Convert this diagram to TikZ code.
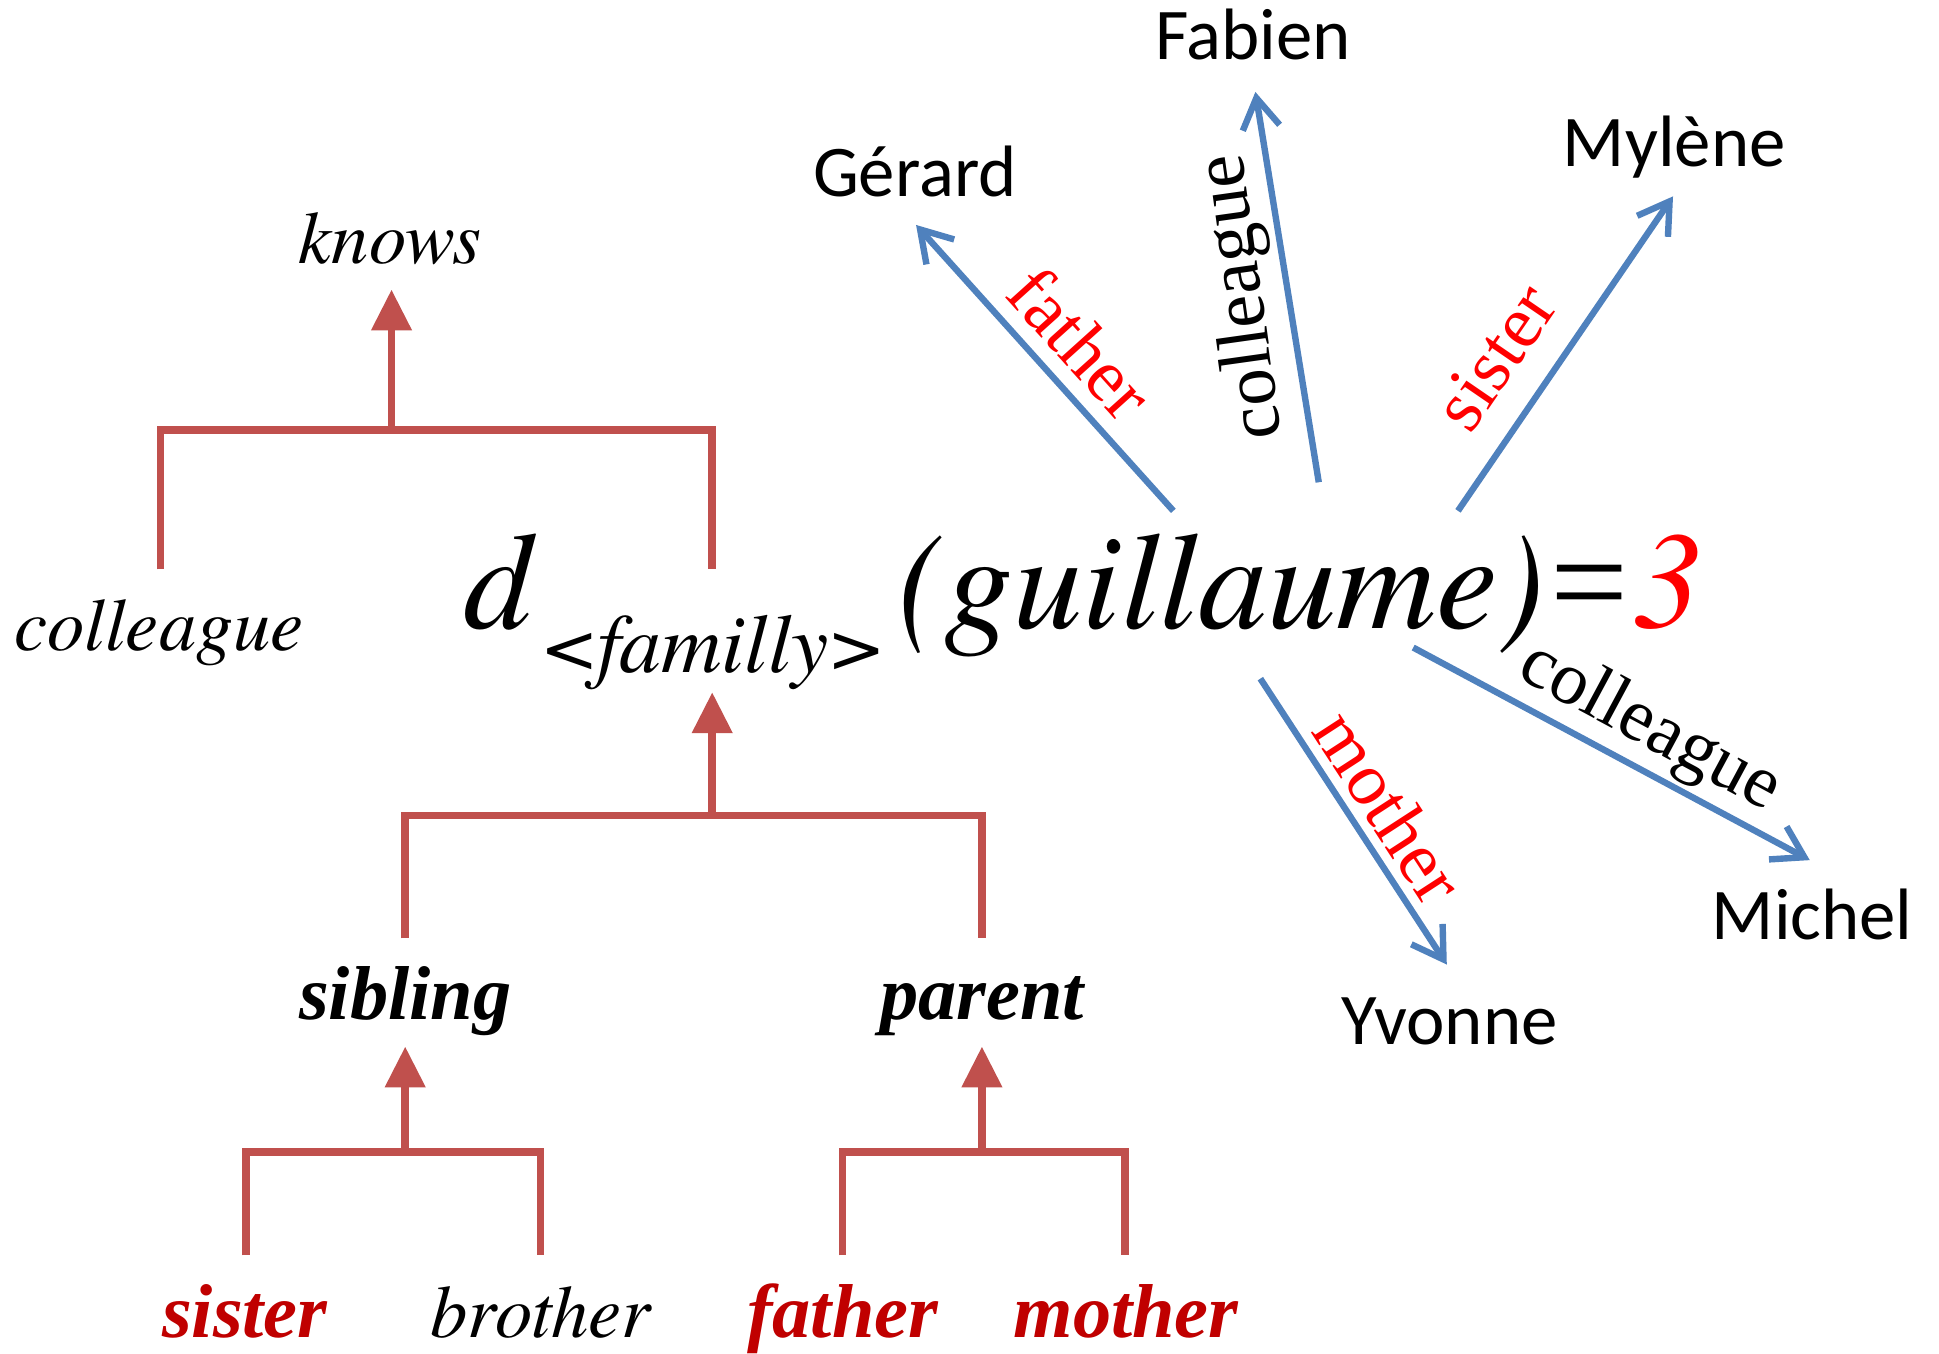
\documentclass[tikz,border=0pt]{standalone}
\usepackage{fontspec}
\setmainfont{Liberation Serif}
\newfontfamily\termesit{texgyretermes-italic.otf}
\newfontfamily\namefont{Carlito}
\usetikzlibrary{arrows.meta}
\definecolor{treered}{RGB}{192,80,77}
\definecolor{arrowblue}{RGB}{79,129,189}
\definecolor{darkred}{RGB}{192,0,0}
\definecolor{labelred}{RGB}{255,0,0}
\begin{document}
\begin{tikzpicture}[x=0.35pt,y=-0.35pt,
  treeline/.style={draw=treered,line width=2.1pt},
  treearrow/.style={draw=treered,line width=2.1pt,-{Triangle[length=11.5pt,width=11pt]}},
  blueedge/.style={draw=arrowblue,line width=1.8pt,-{Straight Barb[length=8.5pt,width=10.5pt]}},
  ittext/.style={font=\termesit\fontsize{21}{25}\selectfont,inner sep=0pt,anchor=base},
  bitext/.style={font=\fontsize{21.5}{25}\selectfont\bfseries\itshape,inner sep=0pt,anchor=base},
  nametext/.style={font=\namefont\fontsize{20.5}{24}\selectfont,inner sep=0pt,anchor=base},
  edgelabel/.style={font=\fontsize{21}{25}\selectfont,inner sep=0pt},
  formula/.style={font=\termesit\fontsize{39}{44}\selectfont,inner sep=0pt,anchor=base west},
  subformula/.style={font=\termesit\fontsize{23.6}{27}\selectfont,inner sep=0pt,anchor=base west}
]
\useasboundingbox (0,0) rectangle (1560,1089);
\fill[white] (0,0) rectangle (1560,1089);

% ---------- formula ----------
\node[formula] (d) at (372,506) {d};
\node[subformula] (sub) at (435,541) {<familly>};
\node[formula] (arg) at (722,506) {(guillaume)};
\node[formula,font=\fontsize{39}{44}\selectfont] (eq) at (1247,506) {=};
\node[formula,text=labelred] (three) at (1314,506) {3};

% ---------- tree texts ----------
\node[ittext] (knows) at (314,212) {knows};
\node[ittext] (colleagueL) at (128,523) {colleague};
\node[bitext] (sibling) at (326,820) {sibling};
\node[bitext] (parent) at (790,820) {parent};
\node[bitext,text=darkred] (sisterB) at (197,1076) {sister};
\node[ittext] (brotherB) at (435,1076) {brother};
\node[bitext,text=darkred] (fatherB) at (678,1076) {father};
\node[bitext,text=darkred] (motherB) at (906,1076) {mother};

% ---------- tree 1 : knows ----------
\coordinate (k1) at (129,458);
\coordinate (k2) at (573,458);
\coordinate (kbar) at (315,346);
\coordinate (ktip) at (315,233);
\draw[treeline] (k1) |- (kbar) -| (k2);
\draw[treearrow] (kbar) -- (ktip);

% ---------- tree 2 : familly ----------
\coordinate (f1) at (326,755);
\coordinate (f2) at (790,755);
\coordinate (fbar) at (573,656);
\coordinate (ftip) at (573,557);
\draw[treeline] (f1) |- (fbar) -| (f2);
\draw[treearrow] (fbar) -- (ftip);

% ---------- tree 3 : sibling ----------
\coordinate (s1) at (198,1010);
\coordinate (s2) at (435,1010);
\coordinate (sbar) at (326,927);
\coordinate (stip) at (326,842);
\draw[treeline] (s1) |- (sbar) -| (s2);
\draw[treearrow] (sbar) -- (stip);

% ---------- tree 4 : parent ----------
\coordinate (p1) at (678,1010);
\coordinate (p2) at (905,1010);
\coordinate (pbar) at (790,927);
\coordinate (ptip) at (790,842);
\draw[treeline] (p1) |- (pbar) -| (p2);
\draw[treearrow] (pbar) -- (ptip);

% ---------- names ----------
\node[nametext] (gerard) at (736,158) {Gérard};
\node[nametext] (fabien) at (1008,48) {Fabien};
\node[nametext] (mylene) at (1347,134) {Mylène};
\node[nametext] (yvonne) at (1166,840) {Yvonne};
\node[nametext] (michel) at (1458,756) {Michel};

% ---------- blue edges ----------
\coordinate (gS) at (944,411);  \coordinate (gT) at (737,181);
\coordinate (fS) at (1061,388); \coordinate (fT) at (1010,74);
\coordinate (mS) at (1173,411); \coordinate (mT) at (1346,158);
\coordinate (yS) at (1014,546); \coordinate (yT) at (1164,776);
\coordinate (cS) at (1137,521); \coordinate (cT) at (1456,692);
\draw[blueedge] (gS) -- (gT);
\draw[blueedge] (fS) -- (fT);
\draw[blueedge] (mS) -- (mT);
\draw[blueedge] (yS) -- (yT);
\draw[blueedge] (cS) -- (cT);

% ---------- edge labels ----------
\node[edgelabel,text=labelred,rotate=-48] (lfather) at (870,276) {father};
\node[edgelabel,rotate=98] (lcolF) at (1001,239) {colleague};
\node[edgelabel,text=labelred,rotate=55.6] (lsister) at (1203,287) {sister};
\node[edgelabel,text=labelred,rotate=-57] (lmother) at (1118,649) {mother};
\node[edgelabel,rotate=-28.2] (lcolM) at (1327,586) {colleague};
\end{tikzpicture}
\end{document}
